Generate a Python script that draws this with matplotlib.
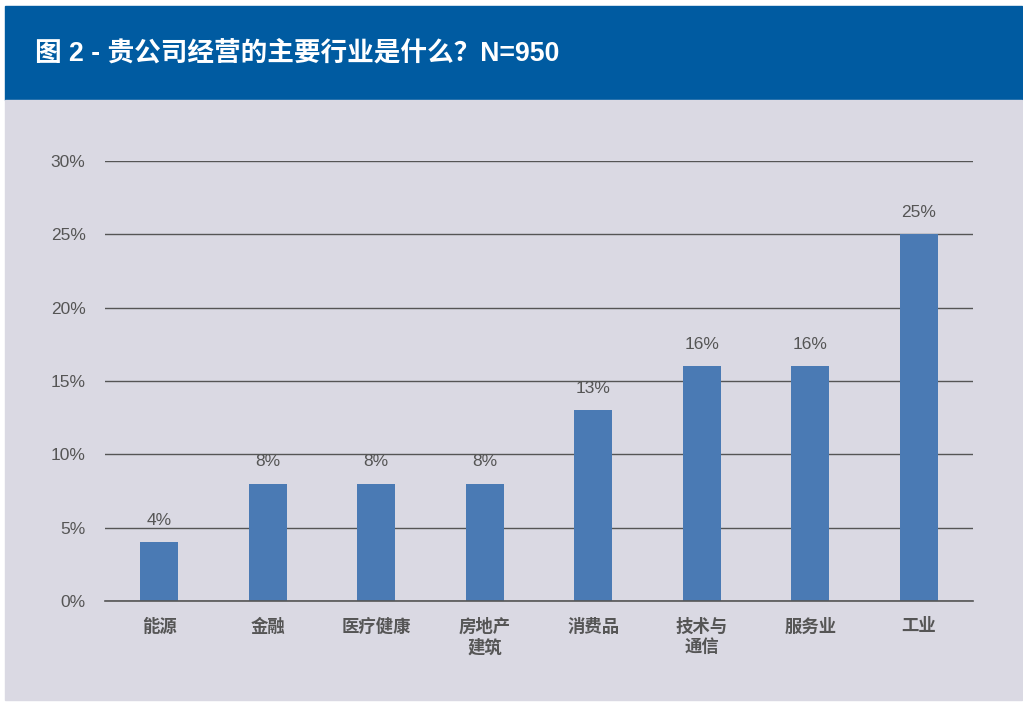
import matplotlib
matplotlib.use("Agg")
import matplotlib.pyplot as plt
from matplotlib.patches import Rectangle

plt.rcParams['font.family'] = ['Liberation Sans', 'Noto Sans CJK SC', 'DejaVu Sans']

categories = ['能源', '金融', '医疗健康', '房地产\n建筑', '消费品', '技术与\n通信', '服务业', '工业']
values = [4, 8, 8, 8, 13, 16, 16, 25]
yticks = [0, 5, 10, 15, 20, 25, 30]
title = '图 2 - 贵公司经营的主要行业是什么？N=950'

blue_header = '#005BA1'
panel_gray = '#DAD9E3'
bar_color = '#4A7AB4'
text_gray = '#555555'

W, H = 1023, 702
fig = plt.figure(figsize=(W / 100, H / 100), dpi=100)
fig.patch.set_facecolor('white')

# header and panel backgrounds (pixel coords converted to figure fraction)
fig.patches.append(Rectangle((5 / W, 1 - 100 / H), 1017 / W, 94 / H,
                             transform=fig.transFigure, color=blue_header, zorder=-5))
fig.patches.append(Rectangle((5 / W, 1 - 700 / H), 1017 / W, 600 / H,
                             transform=fig.transFigure, color=panel_gray, zorder=-5))

fig.text(35 / W, 1 - 54 / H, title, color='white', fontsize=19.2, fontweight='bold',
         va='center', ha='left')

ax = fig.add_axes([105 / W, 1 - 601 / H, 868 / W, 440 / H])
ax.set_facecolor('none')

x = range(len(categories))
bars = ax.bar(x, values, width=0.35, color=bar_color, zorder=3)
for xi, v in zip(x, values):
    ax.text(xi, v + 1.0, f'{v}%', ha='center', va='bottom', fontsize=12.5, color=text_gray)

ax.set_xlim(-0.5, len(categories) - 0.5)
ax.set_ylim(0, 30)
ax.set_yticks(yticks)
ax.set_yticklabels([f'{t}%' for t in yticks], fontsize=12.5, color=text_gray)
ax.set_xticks(list(x))
ax.set_xticklabels(categories, fontsize=12.5, color=text_gray, fontweight='bold',
                   linespacing=1.25, va='top')
ax.tick_params(axis='both', length=0)
ax.tick_params(axis='y', pad=14)
ax.tick_params(axis='x', pad=12)
ax.grid(axis='y', color='#555555', linewidth=1, zorder=1)
ax.axhline(0, color='#555555', linewidth=1.2, zorder=4, clip_on=False)
for s in ax.spines.values():
    s.set_visible(False)

fig.savefig('out.png', dpi=100)
